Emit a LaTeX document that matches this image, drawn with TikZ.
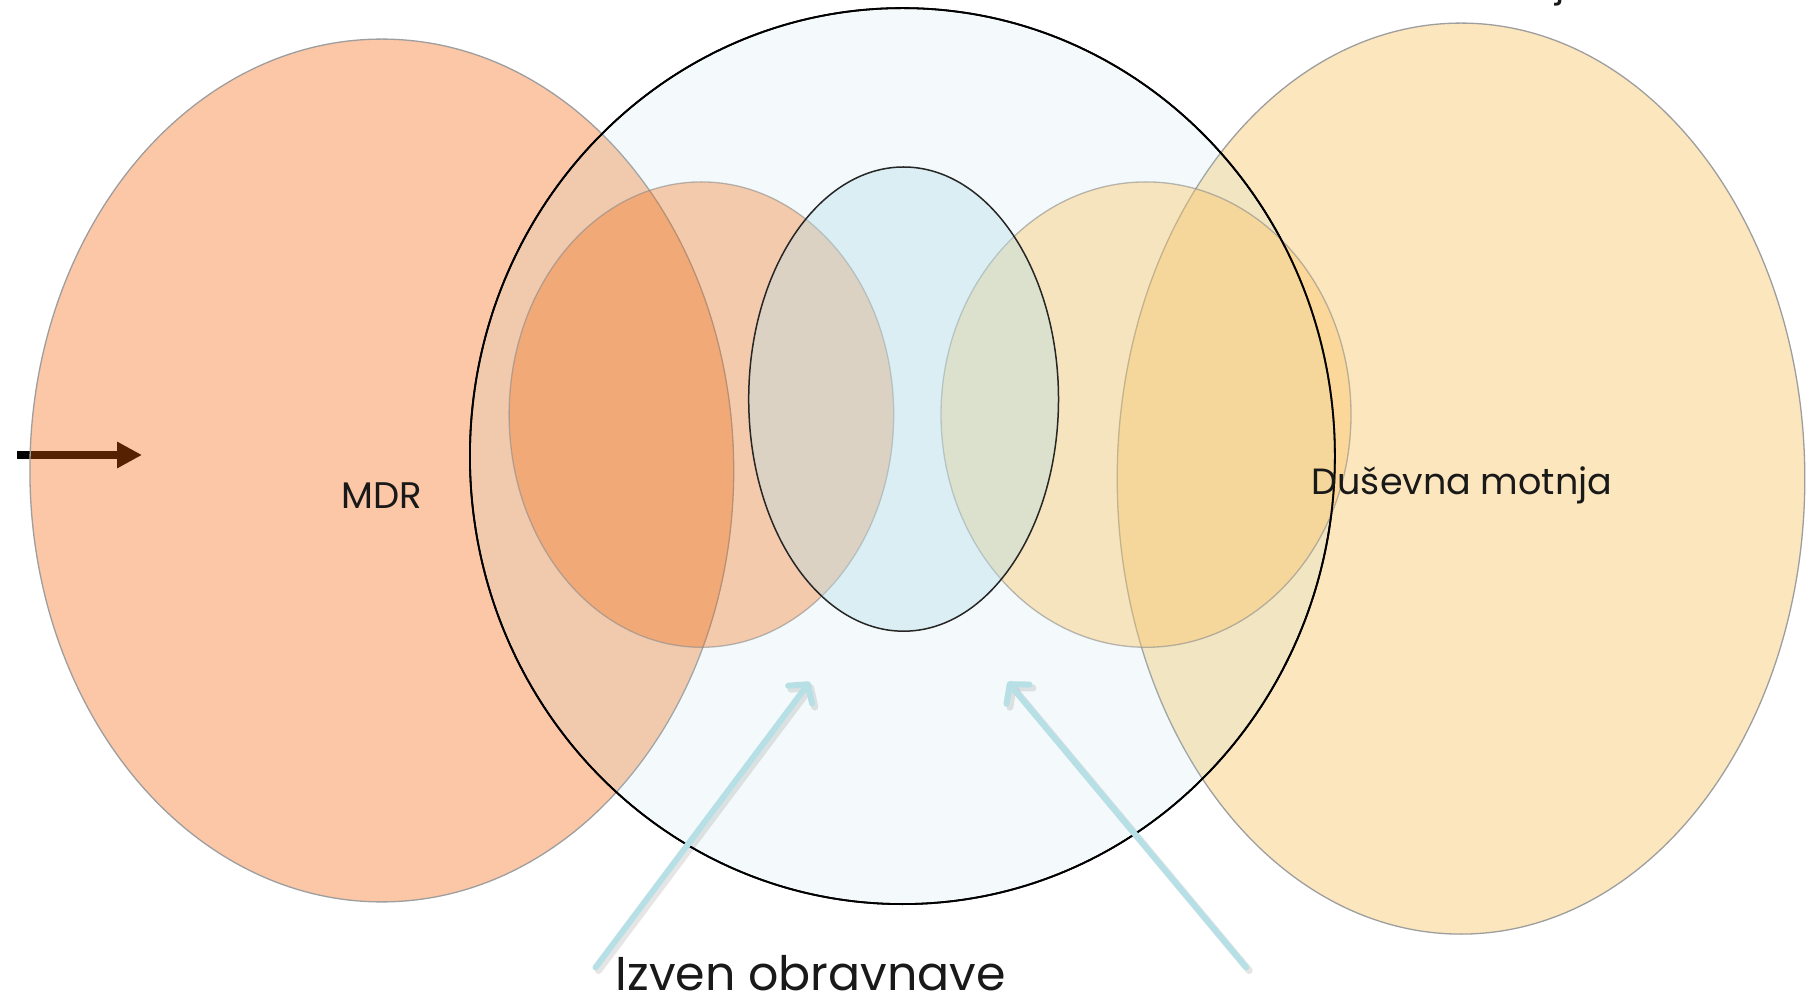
\documentclass[tikz,border=0pt]{standalone}
\usepackage{fontspec}
\setmainfont{Poppins}
\usetikzlibrary{arrows.meta,shapes.geometric}
\definecolor{mdrorange}{RGB}{245,97,2}
\definecolor{yelloworange}{RGB}{250,196,100}
\definecolor{lightcyan}{RGB}{176,224,231}
\definecolor{centercyan}{RGB}{183,222,232}
\definecolor{arrowblue}{RGB}{183,224,230}
\tikzset{
  blob/.style={ellipse, inner sep=0pt, outer sep=0pt},
  bigout/.style={draw=black!38, line width=1.3pt},
  smallout/.style={draw=black!45, draw opacity=0.6, line width=1.3pt},
  blackout/.style={draw=black, line width=1.8pt},
  pointer/.style={draw=arrowblue, line width=6pt, line cap=round,
    -{Straight Barb[length=13pt,width=30pt,round]}},
  pointershadow/.style={draw=black, draw opacity=0.10, line width=7pt, line cap=round,
    -{Straight Barb[length=13pt,width=30pt,round]}},
  label/.style={inner sep=0pt, anchor=base, text=black!90}
}
\begin{document}
\begin{tikzpicture}[x=1pt,y=1pt]
\useasboundingbox (0,0) rectangle (1806,1002);
\fill[white] (0,0) rectangle (1806,1002);
% black arrow (lies beneath the MDR ellipse)
\coordinate (ka) at (17,547);
\coordinate (kb) at (142,547);
\draw[line width=8.5pt, -{Triangle[length=25pt,width=25pt]}] (ka) -- (kb);
% fills
\node[blob, minimum width=703.8pt, minimum height=862.8pt, fill=mdrorange, fill opacity=0.35, bigout] (mdr) at (381.8,531.5) {};
\node[blob, minimum width=687.6pt, minimum height=911pt, fill=yelloworange, fill opacity=0.42, bigout] (dm) at (1461,523.4) {};
\node[blob, minimum width=865pt, minimum height=896pt, fill=lightcyan, fill opacity=0.13, blackout] (circ) at (902.4,545.9) {};
\node[blob, minimum width=384.6pt, minimum height=465.4pt, fill=mdrorange, fill opacity=0.31, smallout] (inl) at (701.4,587.4) {};
\node[blob, minimum width=410pt, minimum height=465.4pt, fill=yelloworange, fill opacity=0.4, smallout] (inr) at (1146,587.4) {};
\node[blob, minimum width=309.8pt, minimum height=464.2pt, fill=centercyan, fill opacity=0.4, draw=black!85, line width=1.5pt] (mid) at (903.6,602.9) {};
% crisp outline of the big circle
\node[blob, minimum width=865pt, minimum height=896pt, blackout] (circline) at (902.4,545.9) {};
% pointers
\coordinate (la) at (595.5,34.5);
\coordinate (lb) at (809.7,320.1);
\coordinate (ra) at (1246.2,34.5);
\coordinate (rb) at (1007.8,320.1);
\draw[pointershadow] ([shift={(3,-3)}]la) -- ([shift={(3,-3)}]lb);
\draw[pointershadow] ([shift={(3,-3)}]ra) -- ([shift={(3,-3)}]rb);
\draw[pointer] (la) -- (lb);
\draw[pointer] (ra) -- (rb);
% texts
\node[label] (tmdr) at (381.5,493) {\fontsize{37}{44}\selectfont MDR};
\node[label] (tdm) at (1462,507) {\fontsize{36.5}{44}\selectfont Duševna motnja};
\node[label] (tiz) at (811,12) {\fontsize{47.5}{57}\selectfont Izven obravnave};
\node[label, anchor=base east] (ttop) at (1588,1005.3) {\fontsize{37}{44}\selectfont Čustvene motnje};
\end{tikzpicture}
\end{document}
